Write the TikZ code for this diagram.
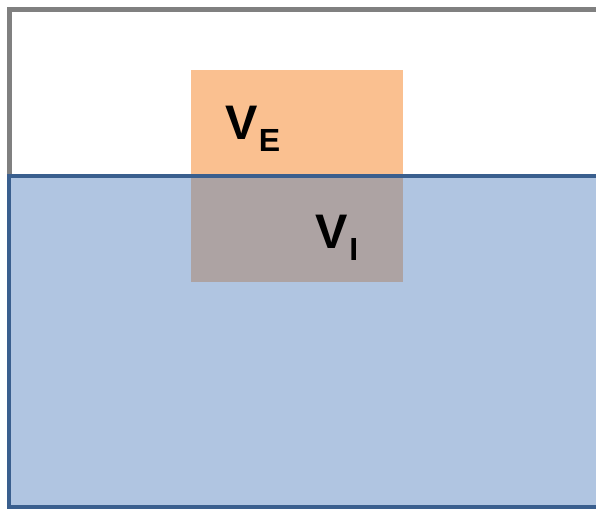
\documentclass[tikz,border=0pt]{standalone}
\usepackage{fontspec}
\setmainfont{Liberation Sans}
\definecolor{grayline}{HTML}{808080}
\definecolor{bluefill}{HTML}{B0C5E1}
\definecolor{blueline}{HTML}{3A5F8E}
\definecolor{orangefill}{HTML}{FAC090}
\definecolor{overlapfill}{HTML}{ADA3A3}
\tikzset{
  lbl/.style={anchor=base west, inner sep=0pt, outer sep=0pt, font=\bfseries\fontsize{48.5}{48.5}\selectfont},
}
\newcommand{\mysub}[1]{\raisebox{-12pt}{\fontsize{32}{32}\selectfont #1}}
\begin{document}
\begin{tikzpicture}[x=1pt,y=-1pt]
\useasboundingbox (0,0) rectangle (596,509);
\fill[white] (0,0) rectangle (596,509);
% gray outline of upper region
\draw[grayline, line width=5pt] (9.5,176) -- (9.5,9.5) -- (610,9.5);
% blue region fill
\fill[bluefill] (9,176) rectangle (610,507);
% orange and overlap rectangles
\fill[orangefill] (191,70) rectangle (403,176);
\fill[overlapfill] (191,176) rectangle (403,282);
% blue border
\draw[blueline, line width=4.5pt] (610,176) -- (9.2,176) -- (9.2,507) -- (610,507);
% labels
\node[lbl] (ve) at (225,139.5) {V\kern1.5pt\mysub{E}};
\node[lbl] (vi) at (315.5,248) {V\kern1.5pt\mysub{I}};
\end{tikzpicture}
\end{document}
